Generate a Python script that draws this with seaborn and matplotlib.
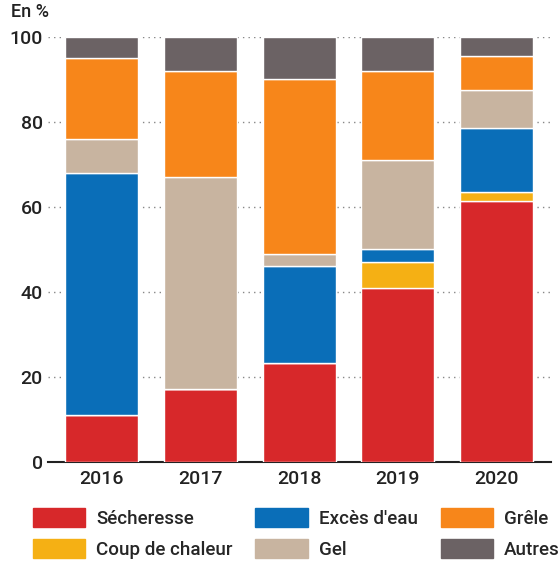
import matplotlib
matplotlib.use("Agg")
import matplotlib.pyplot as plt
import seaborn as sns
import numpy as np
from matplotlib.patches import Patch

years = ["2016", "2017", "2018", "2019", "2020"]
secheresse = [11, 17.2, 23.3, 41, 61.4]
coup_chaleur = [0, 0, 0, 6, 2.1]
exces_eau = [57, 0, 22.7, 3, 15.1]
gel = [8, 49.8, 3, 21, 8.9]
grele = [19, 25, 41, 21, 8]
autres = [5, 8, 10, 8, 4.5]

names = ["Sécheresse", "Coup de chaleur", "Excès d'eau", "Gel", "Grêle", "Autres"]
series = [secheresse, coup_chaleur, exces_eau, gel, grele, autres]
colors = ["#d7282a", "#f5b014", "#0a6eb8", "#c8b4a0", "#f7861a", "#6b6264"]

sns.set_style("white")
plt.rcParams['font.family'] = ['Roboto', 'DejaVu Sans']
fig = plt.figure(figsize=(5.59, 5.76), dpi=100)
ax = fig.add_axes([0.085, 0.198, 0.9, 0.738])
x = np.arange(len(years))
bottom = np.zeros(len(years))
for vals, c in zip(series, colors):
    ax.bar(x, vals, bottom=bottom, color=c, width=0.74, zorder=3)
    bottom += np.array(vals)
ax.set_ylim(0, 100)
ax.set_xlim(-0.55, 4.55)
ax.set_yticks(range(0, 101, 20))
ax.set_xticks(x)
ax.set_xticklabels(years)
for y in range(20, 101, 20):
    ax.axhline(y, color="#888888", linestyle=(0, (1, 3)), lw=1, zorder=1)
for s in ["top", "right", "left"]:
    ax.spines[s].set_visible(False)
ax.spines["bottom"].set_color("#222222")
ax.spines["bottom"].set_linewidth(1.5)
ax.tick_params(axis="x", length=0, labelsize=14, pad=6, colors="#222222")
ax.tick_params(axis="y", length=0, labelsize=14, colors="#222222")
for t in ax.get_xticklabels() + ax.get_yticklabels():
    t.set_fontweight("medium")
fig.text(0.02, 0.995, "En %", fontsize=13, color="#222222", va="top", fontweight="medium")
handles = [Patch(color=c) for c in colors]
fig.legend(handles, names, loc="lower center", bbox_to_anchor=(0.53, 0.0), ncol=3,
           frameon=False, fontsize=13.5, handlelength=2.8, handleheight=1.2,
           columnspacing=1.2, handletextpad=0.6, labelspacing=0.6,
           prop={"weight": "medium", "size": 13.5})
fig.savefig("out.png", dpi=100)
